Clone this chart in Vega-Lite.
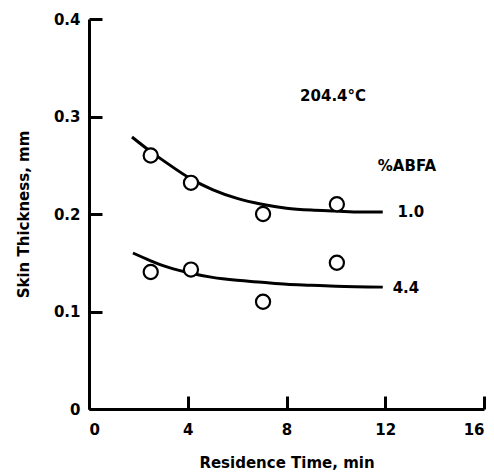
{
  "$schema": "https://vega.github.io/schema/vega-lite/v6.json",
  "width": 395,
  "height": 390,
  "autosize": {"type": "none"},
  "padding": {"left": 89, "top": 19, "right": 10, "bottom": 63},
  "background": "white",
  "config": {
    "view": {"stroke": null},
    "font": "DejaVu Sans",
    "axis": {
      "domainColor": "black",
      "domainWidth": 3,
      "tickColor": "black",
      "tickWidth": 3,
      "tickSize": -13,
      "grid": false,
      "labelFont": "DejaVu Sans",
      "labelFontSize": 15,
      "labelFontWeight": "bold",
      "labelColor": "black",
      "titleFont": "DejaVu Sans",
      "titleFontSize": 15,
      "titleFontWeight": "bold",
      "titleColor": "black"
    }
  },
  "datasets": {
    "points": [
      {"t": 2.5, "s": 0.26, "abfa": "1.0"},
      {"t": 4.13, "s": 0.232, "abfa": "1.0"},
      {"t": 7.05, "s": 0.2, "abfa": "1.0"},
      {"t": 10.04, "s": 0.21, "abfa": "1.0"},
      {"t": 2.5, "s": 0.1405, "abfa": "4.4"},
      {"t": 4.13, "s": 0.143, "abfa": "4.4"},
      {"t": 7.05, "s": 0.11, "abfa": "4.4"},
      {"t": 10.04, "s": 0.15, "abfa": "4.4"}
    ],
    "curves": [
      {"t": 1.74, "s": 0.279, "abfa": "1.0"},
      {"t": 2.5, "s": 0.264, "abfa": "1.0"},
      {"t": 3.0, "s": 0.255, "abfa": "1.0"},
      {"t": 4.13, "s": 0.236, "abfa": "1.0"},
      {"t": 5.0, "s": 0.225, "abfa": "1.0"},
      {"t": 6.0, "s": 0.216, "abfa": "1.0"},
      {"t": 7.0, "s": 0.21, "abfa": "1.0"},
      {"t": 8.0, "s": 0.206, "abfa": "1.0"},
      {"t": 9.0, "s": 0.204, "abfa": "1.0"},
      {"t": 10.0, "s": 0.203, "abfa": "1.0"},
      {"t": 11.0, "s": 0.202, "abfa": "1.0"},
      {"t": 11.9, "s": 0.202, "abfa": "1.0"},
      {"t": 1.78, "s": 0.16, "abfa": "4.4"},
      {"t": 2.5, "s": 0.152, "abfa": "4.4"},
      {"t": 3.0, "s": 0.147, "abfa": "4.4"},
      {"t": 4.0, "s": 0.14, "abfa": "4.4"},
      {"t": 5.0, "s": 0.135, "abfa": "4.4"},
      {"t": 6.0, "s": 0.132, "abfa": "4.4"},
      {"t": 7.0, "s": 0.13, "abfa": "4.4"},
      {"t": 8.0, "s": 0.128, "abfa": "4.4"},
      {"t": 9.0, "s": 0.127, "abfa": "4.4"},
      {"t": 10.0, "s": 0.126, "abfa": "4.4"},
      {"t": 11.9, "s": 0.125, "abfa": "4.4"}
    ],
    "labels": [
      {"t": 8.55, "s": 0.321, "txt": "204.4°C"},
      {"t": 11.7, "s": 0.249, "txt": "%ABFA"},
      {"t": 12.5, "s": 0.202, "txt": "1.0"},
      {"t": 12.3, "s": 0.124, "txt": "4.4"}
    ]
  },
  "layer": [
    {
      "data": {"name": "curves"},
      "mark": {"type": "line", "color": "black", "strokeWidth": 3, "interpolate": "monotone"},
      "encoding": {
        "x": {"field": "t", "type": "quantitative", "scale": {"domain": [0, 16], "nice": false},
          "axis": {"values": [0, 4, 8, 12, 16], "title": "Residence Time, min", "labelPadding": 26, "titlePadding": 18}},
        "y": {"field": "s", "type": "quantitative", "scale": {"domain": [0, 0.4], "nice": false},
          "axis": {"values": [0, 0.1, 0.2, 0.3, 0.4], "format": "~g", "title": "Skin Thickness, mm", "labelPadding": 22, "titlePadding": 22}},
        "detail": {"field": "abfa"}
      }
    },
    {
      "data": {"name": "points"},
      "mark": {"type": "point", "shape": "circle", "size": 200, "filled": true, "fill": "white", "stroke": "black", "strokeWidth": 2.2, "opacity": 1},
      "encoding": {
        "x": {"field": "t", "type": "quantitative"},
        "y": {"field": "s", "type": "quantitative"}
      }
    },
    {
      "data": {"name": "labels"},
      "mark": {"type": "text", "align": "left", "baseline": "middle", "font": "DejaVu Sans", "fontSize": 15, "fontWeight": "bold", "color": "black"},
      "encoding": {
        "x": {"field": "t", "type": "quantitative"},
        "y": {"field": "s", "type": "quantitative"},
        "text": {"field": "txt"}
      }
    }
  ]
}
